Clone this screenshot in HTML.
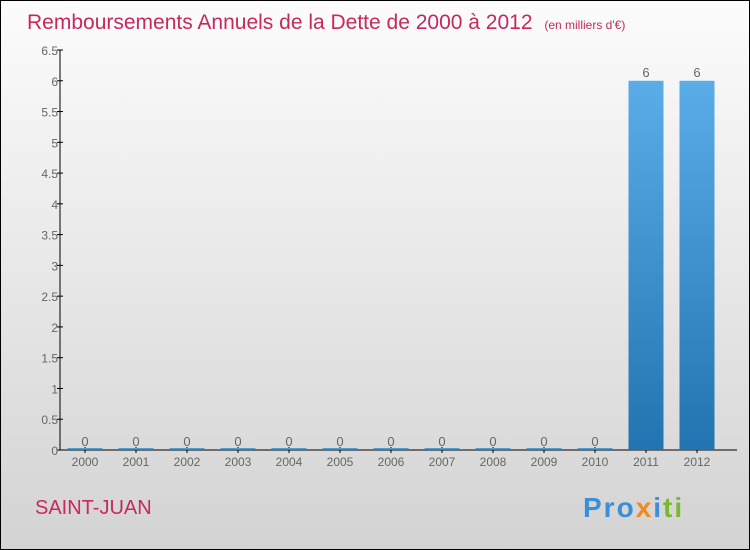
<!DOCTYPE html>
<html><head><meta charset="utf-8"><style>
body{margin:0}
svg{display:block;font-family:"Liberation Sans",sans-serif}
</style></head><body>
<svg width="750" height="550">
<defs>
<linearGradient id="bg" x1="0" y1="0" x2="0" y2="1"><stop offset="0" stop-color="#fcfcfc"/><stop offset="1" stop-color="#d3d3d3"/></linearGradient>
<linearGradient id="bar" x1="0" y1="0" x2="0" y2="1"><stop offset="0" stop-color="#5aade6"/><stop offset="1" stop-color="#2274b1"/></linearGradient>
</defs>
<rect x="0.5" y="0.5" width="749" height="549" fill="url(#bg)" stroke="#000"/>
<text x="27" y="29" font-size="21" fill="#c8285a">Remboursements Annuels de la Dette de 2000 à 2012 <tspan font-size="12" dx="6">(en milliers d'€)</tspan></text>
<g id="axes"></g>
<g id="bars"></g>
<text x="35" y="514" font-size="20" fill="#c8285a">SAINT-JUAN</text>
<text x="583" y="517" font-size="28" font-weight="bold" letter-spacing="2"><tspan fill="#3a8fd8">Pro</tspan><tspan fill="#f08a1e">x</tspan><tspan fill="#3a8fd8">i</tspan><tspan fill="#7ab82e">ti</tspan></text>
</svg>
<script>
const categories=["2000","2001","2002","2003","2004","2005","2006","2007","2008","2009","2010","2011","2012"];
const values=[0,0,0,0,0,0,0,0,0,0,0,6,6];
const yTicks=[0,0.5,1,1.5,2,2.5,3,3.5,4,4.5,5,5.5,6,6.5];
const NS="http://www.w3.org/2000/svg";
const y=v=>450-v*(400/6.5);
const x=i=>85+i*51;
function mk(t,a,p){const e=document.createElementNS(NS,t);for(const k in a)e.setAttribute(k,a[k]);p.appendChild(e);return e;}
const ax=document.getElementById('axes'),bg=document.getElementById('bars');
let l=mk('line',{x1:60,y1:50,x2:60,y2:450,stroke:'#000'},ax);


l=mk('line',{x1:60,y1:450,x2:737,y2:450,stroke:'#000'},ax);


yTicks.forEach(v=>{
 const t=mk('line',{x1:57,x2:63,y1:y(v),y2:y(v),stroke:'#000'},ax);
 
 
 const tx=mk('text',{x:58,y:y(v)+5,'font-size':12,'text-anchor':'end',fill:'#666'},ax);
 tx.textContent=String(v);
 
 
});
categories.forEach((c,i)=>{
 const cx=x(i),v=values[i],top=y(v);
 const r=mk('rect',{x:cx-17.5,y:v>0?top:448,width:35,height:v>0?450-top:2,fill:'url(#bar)'},bg);
 
 
 const vl=mk('text',{x:cx,y:top-4,'font-size':13,'text-anchor':'middle',fill:'#666'},bg);
 vl.textContent=String(v);
 
 
 const tk=mk('line',{x1:cx,x2:cx,y1:447,y2:453,stroke:'#000'},ax);
 
 
 const xl=mk('text',{x:cx,y:466,'font-size':12,'text-anchor':'middle',fill:'#666'},ax);
 xl.textContent=c;
 
 
});
</script>
</body></html>
